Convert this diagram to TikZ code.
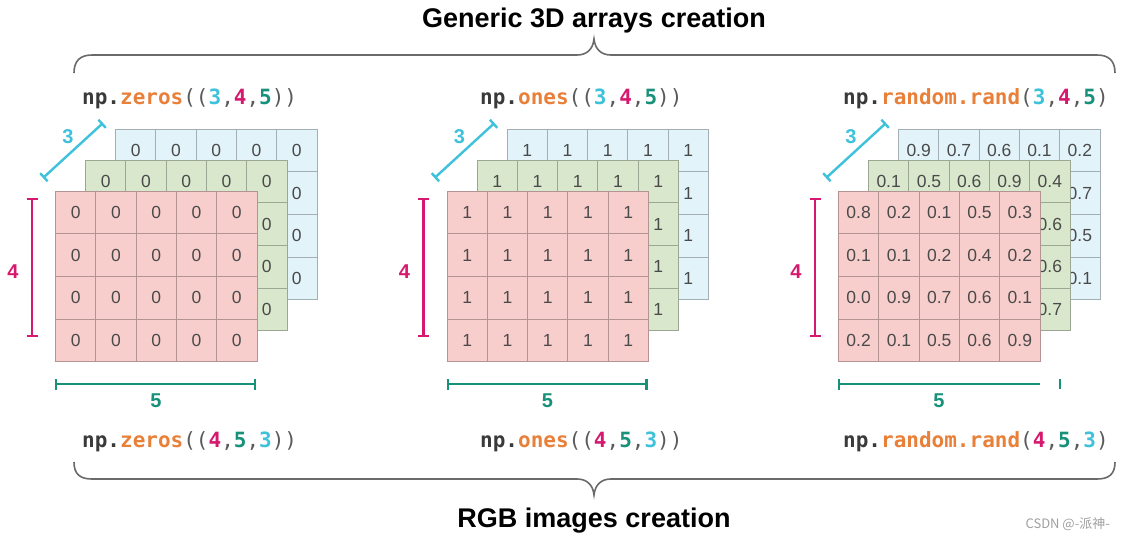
\documentclass[tikz,border=0pt]{standalone}
\usepackage{fontspec}
\setmainfont{Liberation Sans}
\newfontfamily\codefont{DejaVu Sans Mono}
\newfontfamily\cjkfont{Noto Sans CJK SC}
\usepackage{xcolor}
\usepackage{tikz}
\usetikzlibrary{arrows.meta}

\definecolor{cellred}{HTML}{F8CECC}
\definecolor{cellgreen}{HTML}{D9E8CC}
\definecolor{cellblue}{HTML}{E2F3FA}
\definecolor{numgray}{HTML}{4A4A4A}
\definecolor{codegray}{HTML}{3A3A3A}
\definecolor{parengray}{HTML}{5A5A5A}
\definecolor{fnorange}{HTML}{E8803A}
\definecolor{dimcyan}{HTML}{3EC1DA}
\definecolor{dimpink}{HTML}{D6186E}
\definecolor{dimteal}{HTML}{17917A}
\definecolor{bracegray}{HTML}{6A6A6A}

\newcommand{\cpar}[1]{{\mdseries\color{parengray}#1}}

\begin{document}
\begin{tikzpicture}[
    x=1pt, y=-1pt,
    cell/.style={draw=#1!72!black, fill=#1, line width=1pt, minimum width=40.3pt,
                 minimum height=42.7pt, inner sep=0pt, text=numgray,
                 font=\fontsize{17.5}{17.5}\selectfont},
    code/.style={anchor=base west, inner sep=0pt,
                 font=\codefont\bfseries\fontsize{21}{21}\selectfont},
    title/.style={anchor=base, inner sep=0pt, font=\bfseries\fontsize{27}{27}\selectfont},
    dimline/.style={line width=2.4pt, {Bar[width=11pt]}-{Bar[width=11pt]}},
    dimlabel/.style={inner sep=0pt, font=\bfseries\fontsize{20}{20}\selectfont},
    brace/.style={draw=bracegray, line width=1.6pt},
]
    \useasboundingbox (0,0) rectangle (1126,539);

    % titles and braces
    \node[title] (toptitle) at (594,27) {Generic 3D arrays creation};
    \node[title] (bottitle) at (594,527) {RGB images creation};
    \draw[brace] (74,73) .. controls (74,61) and (80,55) .. (92,55) -- (577,55)
        .. controls (587,55) and (593,49) .. (594,39)
        .. controls (595,49) and (601,55) .. (611,55) -- (1097,55)
        .. controls (1109,55) and (1115,61) .. (1115,73);
    \draw[brace] (74,462) .. controls (74,474) and (80,479) .. (92,479) -- (577,479)
        .. controls (587,479) and (593,485) .. (594,495)
        .. controls (595,485) and (601,479) .. (611,479) -- (1097,479)
        .. controls (1109,479) and (1115,474) .. (1115,462);

    % calls
    \node[code] (zeros345) at (82,104) {\textcolor{codegray}{np.}\textcolor{fnorange}{zeros}\cpar{((}\textcolor{dimcyan}{3}\cpar{,}\textcolor{dimpink}{4}\cpar{,}\textcolor{dimteal}{5}\cpar{))}};
    \node[code] (ones345) at (480,104) {\textcolor{codegray}{np.}\textcolor{fnorange}{ones}\cpar{((}\textcolor{dimcyan}{3}\cpar{,}\textcolor{dimpink}{4}\cpar{,}\textcolor{dimteal}{5}\cpar{))}};
    \node[code] (rand345) at (843,104) {\textcolor{codegray}{np.}\textcolor{fnorange}{random.rand}\cpar{(}\textcolor{dimcyan}{3}\cpar{,}\textcolor{dimpink}{4}\cpar{,}\textcolor{dimteal}{5}\cpar{)}};
    \node[code] (zeros453) at (82,447) {\textcolor{codegray}{np.}\textcolor{fnorange}{zeros}\cpar{((}\textcolor{dimpink}{4}\cpar{,}\textcolor{dimteal}{5}\cpar{,}\textcolor{dimcyan}{3}\cpar{))}};
    \node[code] (ones453) at (480,447) {\textcolor{codegray}{np.}\textcolor{fnorange}{ones}\cpar{((}\textcolor{dimpink}{4}\cpar{,}\textcolor{dimteal}{5}\cpar{,}\textcolor{dimcyan}{3}\cpar{))}};
    \node[code] (rand453) at (843,447) {\textcolor{codegray}{np.}\textcolor{fnorange}{random.rand}\cpar{(}\textcolor{dimpink}{4}\cpar{,}\textcolor{dimteal}{5}\cpar{,}\textcolor{dimcyan}{3}\cpar{)}};

    % zeros and ones: blue, green, then red layer in front
    \foreach \px/\val/\nm in {55.5/0/z, 447/1/o}
        \foreach \dx/\dy/\col/\ly in {60/62/cellblue/b, 30/31/cellgreen/g, 0/0/cellred/f}
            \foreach \r in {0,...,3}
                \foreach \c in {0,...,4}
                    \node[cell=\col] (\nm-\ly-\r-\c)
                        at (\px+\dx+\c*40.3+20.15, 191-\dy+\r*42.7+21.35) {\val};

    % random: only the top row and last column of the back layers show
    \foreach \rowv [count=\r from 0] in {{0.9,0.7,0.6,0.1,0.2},{{},{},{},{},0.7},{{},{},{},{},0.5},{{},{},{},{},0.1}}
        \foreach \v [count=\c from 0] in \rowv
            \node[cell=cellblue] (r-b-\r-\c) at (898.5+\c*40.3+20.15, 129+\r*42.7+21.35) {\v};
    \foreach \rowv [count=\r from 0] in {{0.1,0.5,0.6,0.9,0.4},{{},{},{},{},0.6},{{},{},{},{},0.6},{{},{},{},{},0.7}}
        \foreach \v [count=\c from 0] in \rowv
            \node[cell=cellgreen] (r-g-\r-\c) at (868.5+\c*40.3+20.15, 160+\r*42.7+21.35) {\v};
    \foreach \rowv [count=\r from 0] in {{0.8,0.2,0.1,0.5,0.3},{0.1,0.1,0.2,0.4,0.2},{0.0,0.9,0.7,0.6,0.1},{0.2,0.1,0.5,0.6,0.9}}
        \foreach \v [count=\c from 0] in \rowv
            \node[cell=cellred] (r-f-\r-\c) at (838.5+\c*40.3+20.15, 191+\r*42.7+21.35) {\v};

    % dimensions
    \foreach \ox [count=\p] in {0, 391.5, 783}{
        \coordinate (d3a-\p) at (43+\ox,178);
        \coordinate (d3b-\p) at (103+\ox,123);
        \coordinate (d4a-\p) at (32+\ox,198);
        \coordinate (d4b-\p) at (32+\ox,337);
        \draw[dimline, dimcyan] (d3a-\p) -- (d3b-\p);
        \draw[dimline, dimpink] (d4a-\p) -- (d4b-\p);
        \node[dimlabel, text=dimcyan] (n3-\p) at (68+\ox,137) {3};
        \node[dimlabel, text=dimpink] (n4-\p) at (13+\ox,272) {4};
        \node[dimlabel, text=dimteal] (n5-\p) at (156+\ox,401) {5};
    }
    \foreach \ox [count=\p] in {0, 391.5}{
        \coordinate (d5a-\p) at (55+\ox,384);
        \coordinate (d5b-\p) at (256+\ox,384);
        \draw[dimline, dimteal] (d5a-\p) -- (d5b-\p);
    }
    \coordinate (d5a-3) at (838,384);
    \coordinate (d5b-3) at (1040,384);
    \coordinate (t5a) at (1060,379);
    \coordinate (t5b) at (1060,389);
    \draw[dimline, dimteal, {Bar[width=11pt]}-] (d5a-3) -- (d5b-3);
    \draw[dimteal, line width=2.4pt] (t5a) -- (t5b);

    \node[anchor=base east, inner sep=0pt, text=gray!75,
          font=\cjkfont\fontsize{13}{13}\selectfont] (mark) at (1110,528) {CSDN @-派神-};
\end{tikzpicture}
\end{document}
